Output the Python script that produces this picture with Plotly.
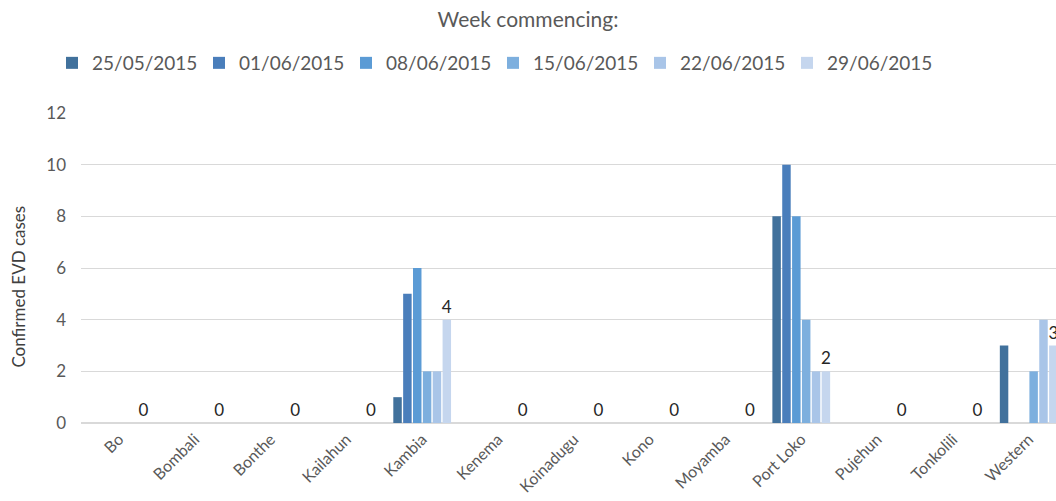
import plotly.graph_objects as go

districts = ["Bo", "Bombali", "Bonthe", "Kailahun", "Kambia", "Kenema", "Koinadugu",
             "Kono", "Moyamba", "Port Loko", "Pujehun", "Tonkolili", "Western"]
weeks = ["25/05/2015", "01/06/2015", "08/06/2015", "15/06/2015", "22/06/2015", "29/06/2015"]

w_25_05 = [0, 0, 0, 0, 1, 0, 0, 0, 0, 8, 0, 0, 3]
w_01_06 = [0, 0, 0, 0, 5, 0, 0, 0, 0, 10, 0, 0, 0]
w_08_06 = [0, 0, 0, 0, 6, 0, 0, 0, 0, 8, 0, 0, 0]
w_15_06 = [0, 0, 0, 0, 2, 0, 0, 0, 0, 4, 0, 0, 2]
w_22_06 = [0, 0, 0, 0, 2, 0, 0, 0, 0, 2, 0, 0, 4]
w_29_06 = [0, 0, 0, 0, 4, 0, 0, 0, 0, 2, 0, 0, 3]

series = [w_25_05, w_01_06, w_08_06, w_15_06, w_22_06, w_29_06]
colors = ["#41719C", "#4A7EBB", "#5B9BD5", "#7DAFDE", "#A9C5E8", "#C5D6EE"]

fig = go.Figure()
for i, (name, vals) in enumerate(zip(weeks, series)):
    last = i == len(series) - 1
    fig.add_trace(go.Bar(
        x=districts, y=vals, name=name, marker_color=colors[i],
        marker_line_width=0,
        texttemplate="%{y}" if last else None,
        textposition="outside" if last else "none",
        textfont=dict(size=17, color="#262626"),
        constraintext="none",
        cliponaxis=False,
    ))

fig.update_layout(
    width=1056, height=501,
    barmode="group", bargap=0.22, bargroupgap=0.14,
    plot_bgcolor="white", paper_bgcolor="white",
    font=dict(family="Lato, Open Sans, sans-serif", color="#595959", size=16),
    title=dict(text="Week commencing:", x=0.5, xanchor="center",
               y=1 - 20 / 501, yref="container", yanchor="middle",
               font=dict(size=21, color="#595959")),
    legend=dict(orientation="h", xref="container", yref="container",
                x=52 / 1056, xanchor="left", y=1 - 63 / 501, yanchor="middle",
                font=dict(size=19, color="#595959"), traceorder="normal",
                itemwidth=30, entrywidth=102),
    margin=dict(l=81, r=0, t=113, b=78, autoexpand=False),
    annotations=[dict(text="Confirmed EVD cases", textangle=-90,
                      xref="paper", yref="paper", x=-62 / 975, y=0.44,
                      xanchor="center", yanchor="middle", showarrow=False,
                      font=dict(size=17, color="#404040"))],
)
fig.update_yaxes(range=[0, 12], dtick=2, showgrid=True, gridcolor="#D9D9D9",
                 zeroline=True, zerolinecolor="#D9D9D9", ticks="",
                 automargin=False, ticklabelstandoff=14,
                 tickfont=dict(size=17, color="#595959"))
fig.update_xaxes(range=[-0.5, 12.36], tickangle=-45, showline=False,
                 automargin=False, ticklabelstandoff=3,
                 tickfont=dict(size=16, color="#595959"))

# page body has a default 8px margin, drop it so the figure sits at 0,0
fig.write_html("out.html", config={"displayModeBar": False},
               post_script="document.body.style.margin='0';")
